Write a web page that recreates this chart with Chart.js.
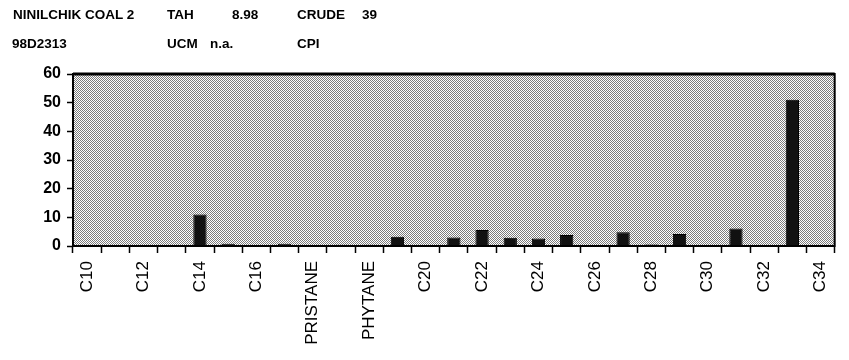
<!DOCTYPE html>
<html>
<head>
<meta charset="utf-8">
<script src="https://cdn.jsdelivr.net/npm/chart.js@4.4.0/dist/chart.umd.min.js"></script>
<style>
  html, body { margin: 0; padding: 0; background: #fff; overflow: hidden; }
  #wrap { position: relative; width: 849px; height: 360px; }
  #chart { display: block; }
  .hd { position: absolute; font-family: "Liberation Sans", Arial, sans-serif; font-size: 13.5px; font-weight: bold; line-height: 14px; color: #000; white-space: nowrap; }
</style>
</head>
<body>
<div id="wrap">
  <canvas id="chart" width="849" height="360"></canvas>
  <div class="hd" style="left:13px;top:8px;">NINILCHIK COAL 2</div>
  <div class="hd" style="left:167px;top:8px;">TAH</div>
  <div class="hd" style="left:232px;top:8px;">8.98</div>
  <div class="hd" style="left:297px;top:8px;">CRUDE</div>
  <div class="hd" style="left:362px;top:8px;">39</div>
  <div class="hd" style="left:12px;top:37px;">98D2313</div>
  <div class="hd" style="left:167px;top:37px;">UCM</div>
  <div class="hd" style="left:210px;top:37px;">n.a.</div>
  <div class="hd" style="left:297px;top:37px;">CPI</div>
</div>
<script>
// compounds, in the order they come off the column
const compounds = ['C10', 'C11', 'C12', 'C13', 'C14', 'C15', 'C16', 'C17', 'PRISTANE', 'C18', 'PHYTANE', 'C19',
  'C20', 'C21', 'C22', 'C23', 'C24', 'C25', 'C26', 'C27', 'C28', 'C29', 'C30', 'C31', 'C32', 'C33', 'C34'];
const amounts = [0, 0, 0, 0, 11, 0.8, 0.3, 0.8, 0.3, 0.4, 0.4, 3.2,
  0, 3, 5.6, 2.9, 2.6, 3.8, 0.3, 4.8, 0.5, 4.2, 0.2, 6.1, 0, 51, 0];
const yTicks = [0, 10, 20, 30, 40, 50, 60];

// dotted grey fill like the printed original
function makeDots() {
  const c = document.createElement('canvas');
  c.width = 2;
  c.height = 2;
  const g = c.getContext('2d');
  g.fillStyle = '#ffffff';
  g.fillRect(0, 0, 2, 2);
  g.fillStyle = '#7c7c7c';
  g.fillRect(0, 0, 1, 1);
  g.fillRect(1, 1, 1, 1);
  return c;
}

const areaFill = {
  id: 'areaFill',
  beforeDatasetsDraw(chart) {
    const { ctx, chartArea: a } = chart;
    ctx.save();
    ctx.fillStyle = ctx.createPattern(makeDots(), 'repeat');
    ctx.fillRect(a.left, a.top, a.right - a.left, a.bottom - a.top);
    ctx.restore();
  },
  afterDraw(chart) {
    const { ctx, chartArea: a } = chart;
    ctx.save();
    ctx.strokeStyle = '#000';
    ctx.lineWidth = 2;
    ctx.strokeRect(a.left, a.top, a.right - a.left, a.bottom - a.top);
    ctx.lineWidth = 3;
    ctx.beginPath();
    ctx.moveTo(a.left, a.top);
    ctx.lineTo(a.right, a.top);
    ctx.stroke();
    ctx.restore();
  }
};

const ctx = document.getElementById('chart').getContext('2d');
new Chart(ctx, {
  type: 'bar',
  data: {
    labels: compounds,
    datasets: [{
      data: amounts,
      backgroundColor: '#111111',
      borderColor: '#000000',
      borderWidth: 1,
      categoryPercentage: 1,
      barPercentage: 0.47,
    }],
  },
  options: {
    responsive: false,
    animation: false,
    layout: { padding: { top: 74, right: 1, left: 0, bottom: 0 } },
    plugins: { legend: { display: false }, tooltip: { enabled: false } },
    scales: {
      x: {
        grid: { drawOnChartArea: false, color: '#000', tickLength: 7, tickWidth: 1.5, offset: true },
        border: { color: '#000', width: 2 },
        ticks: {
          autoSkip: false,
          minRotation: 90,
          maxRotation: 90,
          padding: 8,
          color: '#000',
          font: { family: '"Liberation Sans", Arial, sans-serif', size: 17 },
          callback: (v, i) => (i % 2 === 0 ? compounds[i] : ''),
        },
        afterFit(scale) { scale.height = 114; },
      },
      y: {
        min: 0,
        max: 60,
        afterBuildTicks(scale) { scale.ticks = yTicks.map(v => ({ value: v })); },
        grid: { drawOnChartArea: false, color: '#000', tickLength: 6, tickWidth: 1.5 },
        border: { color: '#000', width: 2 },
        ticks: {
          padding: 6,
          color: '#000',
          font: { family: '"Liberation Sans", Arial, sans-serif', size: 16, weight: 'bold' },
        },
        afterFit(scale) { scale.width = 73; },
      },
    },
  },
  plugins: [areaFill],
});
</script>
</body>
</html>
